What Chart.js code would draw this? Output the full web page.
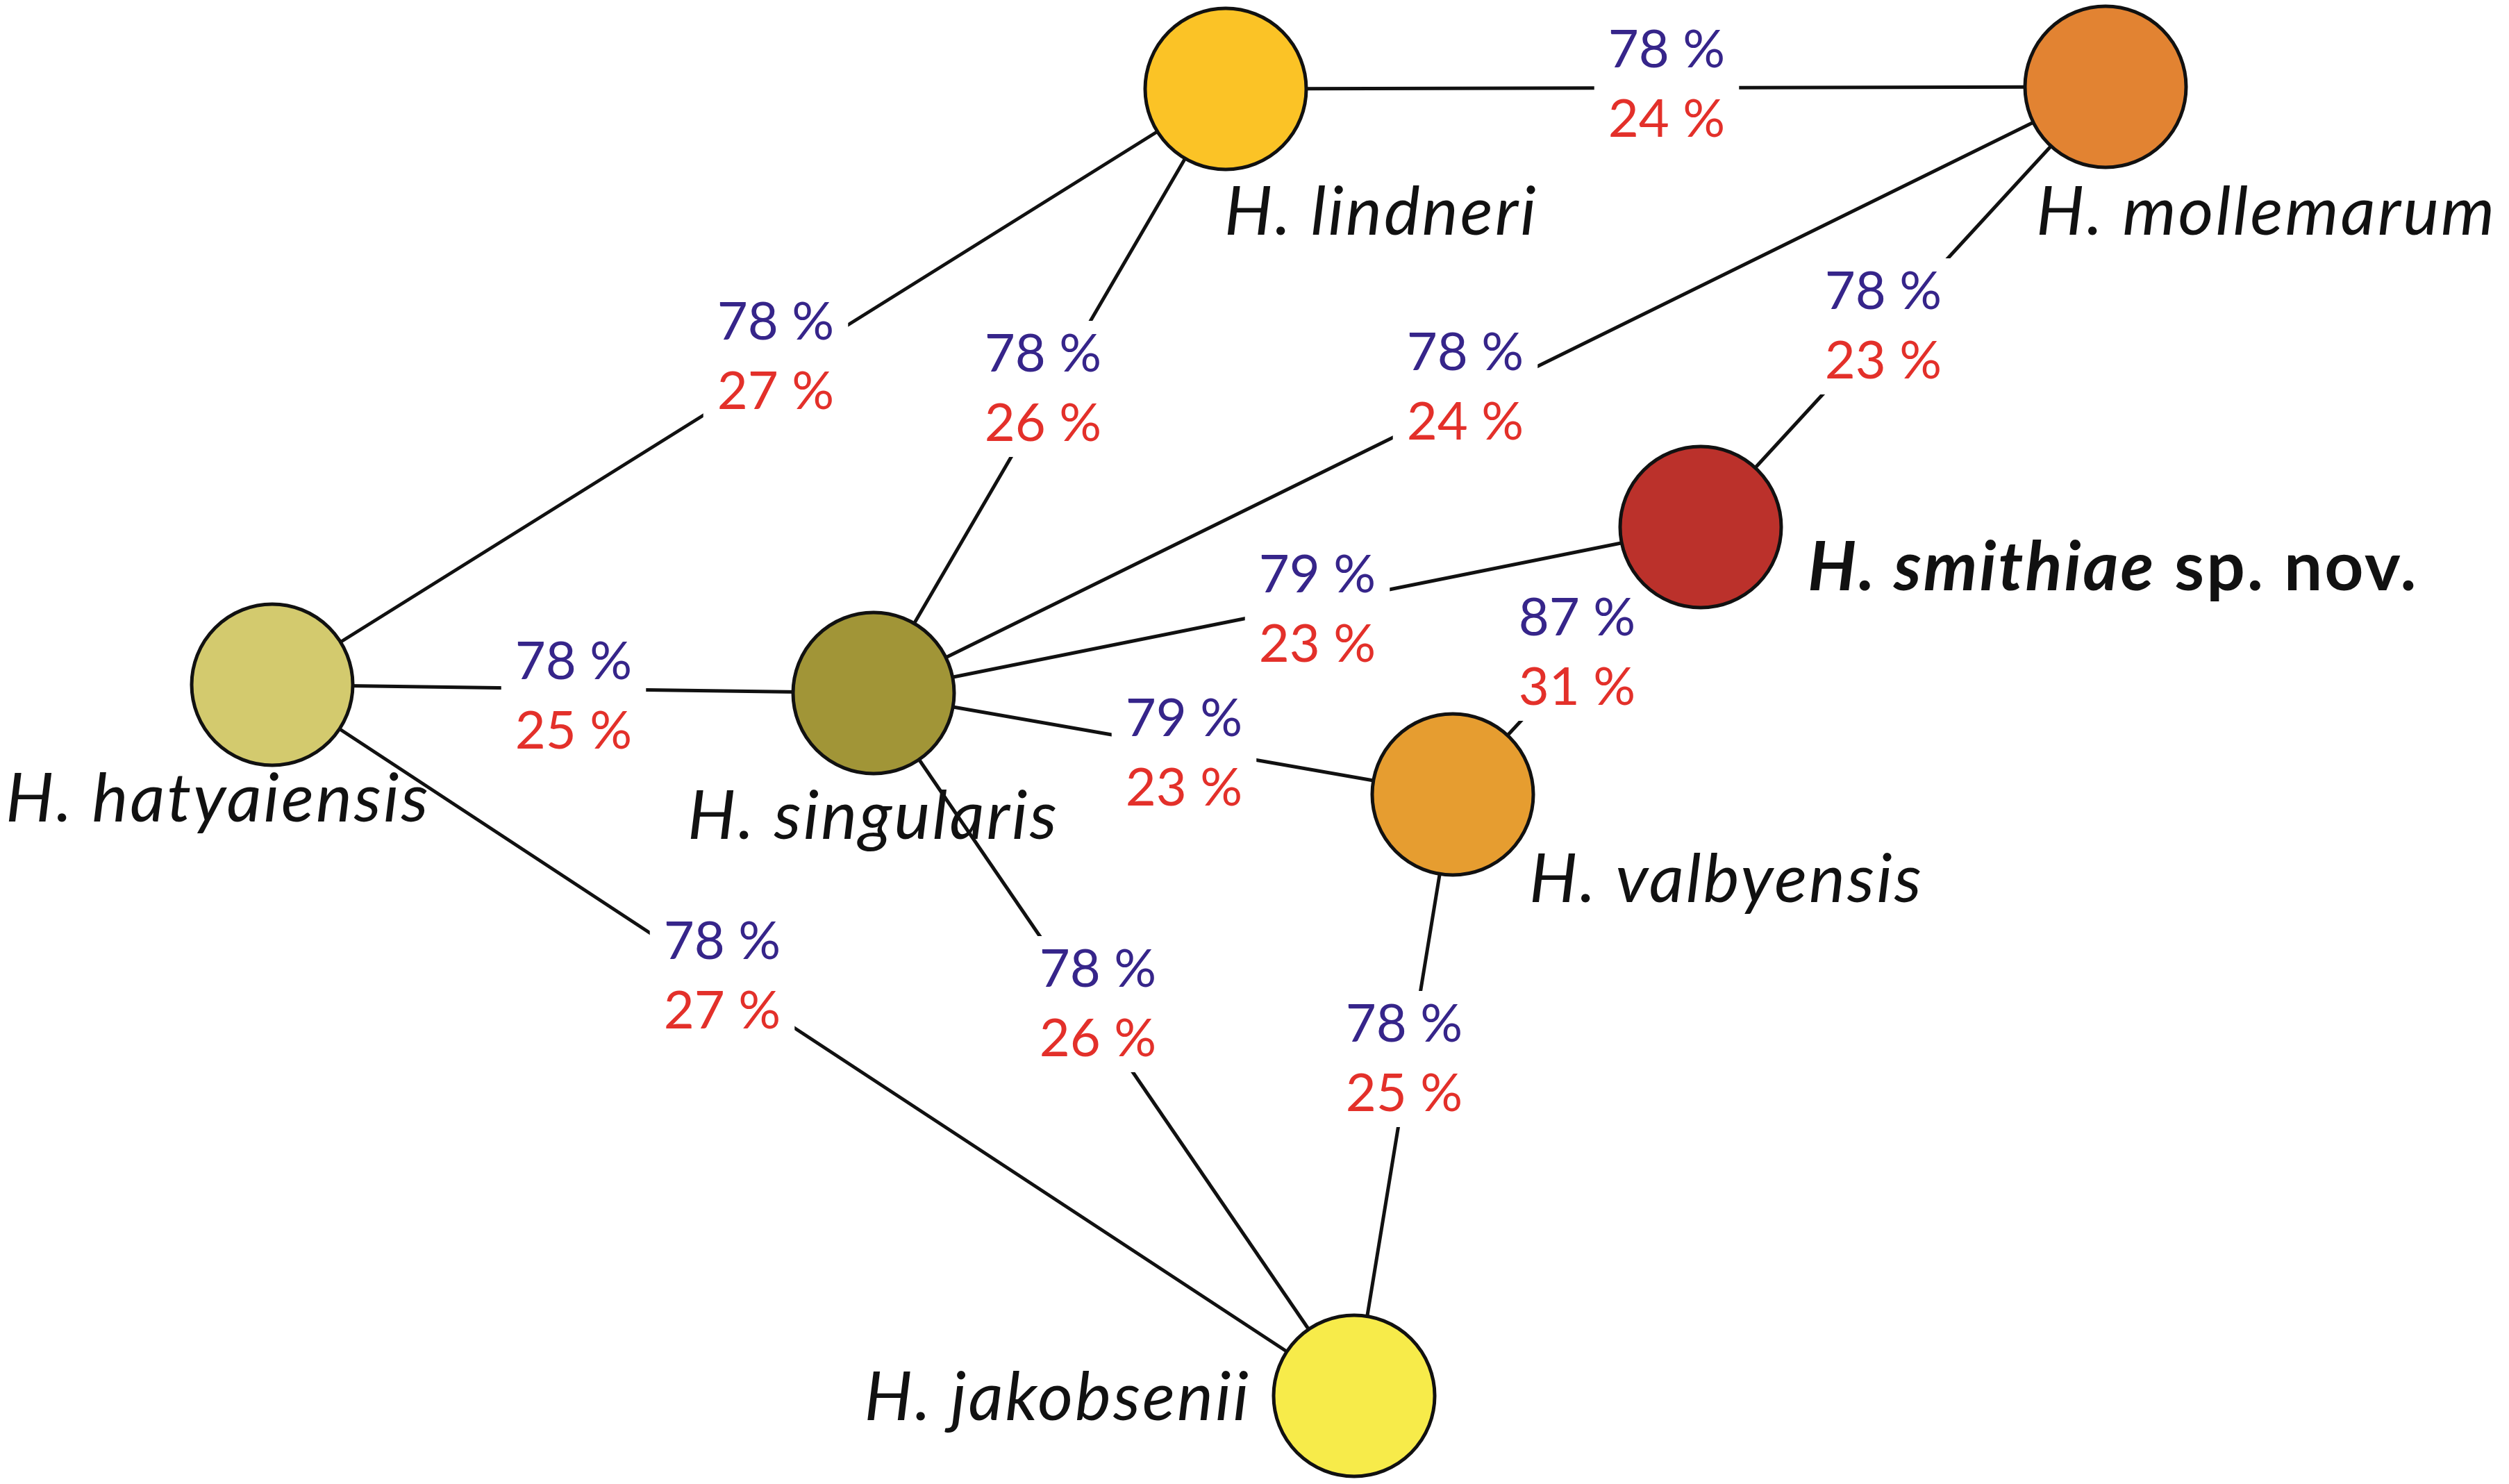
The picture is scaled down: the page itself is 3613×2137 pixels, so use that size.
<!DOCTYPE html>
<html>
<head>
<meta charset="utf-8">
<script src="https://cdn.jsdelivr.net/npm/chart.js@4/dist/chart.umd.min.js"></script>
<style>
  html, body { margin: 0; padding: 0; background: #fff; }
  #wrap { width: 3613px; height: 2137px; }
</style>
</head>
<body>
<div id="wrap"><canvas id="grafico" width="3613" height="2137"></canvas></div>
<script>
// nós (espécies) - posição no plano do diagrama
const nomes = ['H. hatyaiensis', 'H. singularis', 'H. lindneri', 'H. mollemarum',
               'H. smithiae', 'H. valbyensis', 'H. jakobsenii'];
const nodeX = [392, 1258, 1765, 3032, 2449, 2092, 1950];
const nodeY = [986, 998, 128, 125, 759, 1144, 2010];
const cores = ['#d3ca6e', '#a19537', '#fbc326', '#e28332', '#bb312b', '#e69d30', '#f7eb4a'];

// arestas: índices dos nós + valores de similaridade
const origem  = [0, 2, 2, 3, 3, 0, 1, 4, 1, 0, 1, 5];
const destino = [2, 1, 3, 1, 4, 1, 4, 5, 5, 6, 6, 6];
const simA = [78, 78, 78, 78, 78, 78, 79, 87, 79, 78, 78, 78]; // roxo
const simB = [27, 26, 24, 24, 23, 25, 23, 31, 23, 27, 26, 25]; // vermelho
// onde fica cada rótulo
const rotuloX = [1117, 1502, 2400, 2110, 2712, 826, 1897, 2271, 1705, 1040, 1581, 2022];
const rotuloY = [514, 560, 122, 558, 470, 1003, 878, 940, 1085, 1406, 1446, 1525];

// posição dos nomes
const nomeX = [8, 990, 1763, 2932, 2603, 2202, 1801];
const nomeY = [1183, 1208, 338, 338, 850, 1299, 2045];
const nomeAlign = ['left', 'left', 'left', 'left', 'left', 'left', 'right'];

const LABEL_FONT = '76px Lato';
const NAME_SIZE = 98;

const rotulosPlugin = {
  id: 'rotulos',
  // caixas brancas por cima das arestas, antes de desenhar os círculos
  beforeDatasetDraw(chart, args) {
    if (args.index !== 0) return;
    const ctx = chart.ctx;
    const sx = chart.scales.x, sy = chart.scales.y;
    ctx.save();
    ctx.font = LABEL_FONT;
    ctx.textAlign = 'center';
    ctx.textBaseline = 'middle';
    for (let i = 0; i < simA.length; i++) {
      const px = sx.getPixelForValue(rotuloX[i]);
      const py = sy.getPixelForValue(rotuloY[i]);
      const w = ctx.measureText(simA[i] + ' %').width + 40;
      ctx.fillStyle = '#ffffff';
      ctx.fillRect(px - w / 2, py - 98, w, 196);
      ctx.fillStyle = '#36258a';
      ctx.fillText(simA[i] + ' %', px, py - 50);
      ctx.fillStyle = '#e3302a';
      ctx.fillText(simB[i] + ' %', px, py + 50);
    }
    ctx.restore();
  },
  afterDatasetsDraw(chart) {
    const ctx = chart.ctx;
    const sx = chart.scales.x, sy = chart.scales.y;
    ctx.save();
    ctx.fillStyle = '#111111';
    ctx.textBaseline = 'alphabetic';
    ctx.letterSpacing = '3px';
    for (let i = 0; i < nomes.length; i++) {
      const px = sx.getPixelForValue(nomeX[i]);
      const py = sy.getPixelForValue(nomeY[i]);
      ctx.textAlign = nomeAlign[i];
      if (i === 4) {
        // espécie nova em negrito
        ctx.textAlign = 'left';
        ctx.font = 'italic bold ' + NAME_SIZE + 'px Lato';
        ctx.fillText(nomes[i], px, py);
        const w = ctx.measureText(nomes[i]).width;
        ctx.font = 'bold ' + NAME_SIZE + 'px Lato';
        ctx.fillText(' sp. nov.', px + w, py);
      } else {
        ctx.font = 'italic ' + NAME_SIZE + 'px Lato';
        ctx.fillText(nomes[i], px, py);
      }
    }
    ctx.restore();
  }
};

// dataset 0 = nós (desenhado por último), depois as arestas
const datasets = [{
  type: 'scatter',
  data: nomes.map((n, i) => ({ x: nodeX[i], y: nodeY[i] })),
  backgroundColor: cores,
  borderColor: '#111111',
  borderWidth: 5,
  pointRadius: 116,
  pointHoverRadius: 116,
  clip: false
}];
for (let i = 0; i < origem.length; i++) {
  datasets.push({
    type: 'line',
    data: [{ x: nodeX[origem[i]], y: nodeY[origem[i]] },
           { x: nodeX[destino[i]], y: nodeY[destino[i]] }],
    borderColor: '#111111',
    borderWidth: 5,
    pointRadius: 0,
    fill: false,
    clip: false
  });
}

const ctx = document.getElementById('grafico').getContext('2d');
new Chart(ctx, {
  type: 'scatter',
  data: { datasets: datasets },
  options: {
    responsive: false,
    animation: false,
    devicePixelRatio: 1,
    events: [],
    layout: { padding: 0, autoPadding: false },
    plugins: { legend: { display: false }, tooltip: { enabled: false } },
    scales: {
      x: { type: 'linear', min: 0, max: 3613, display: false },
      y: { type: 'linear', min: 0, max: 2137, reverse: true, display: false }
    }
  },
  plugins: [rotulosPlugin]
});
</script>
</body>
</html>
